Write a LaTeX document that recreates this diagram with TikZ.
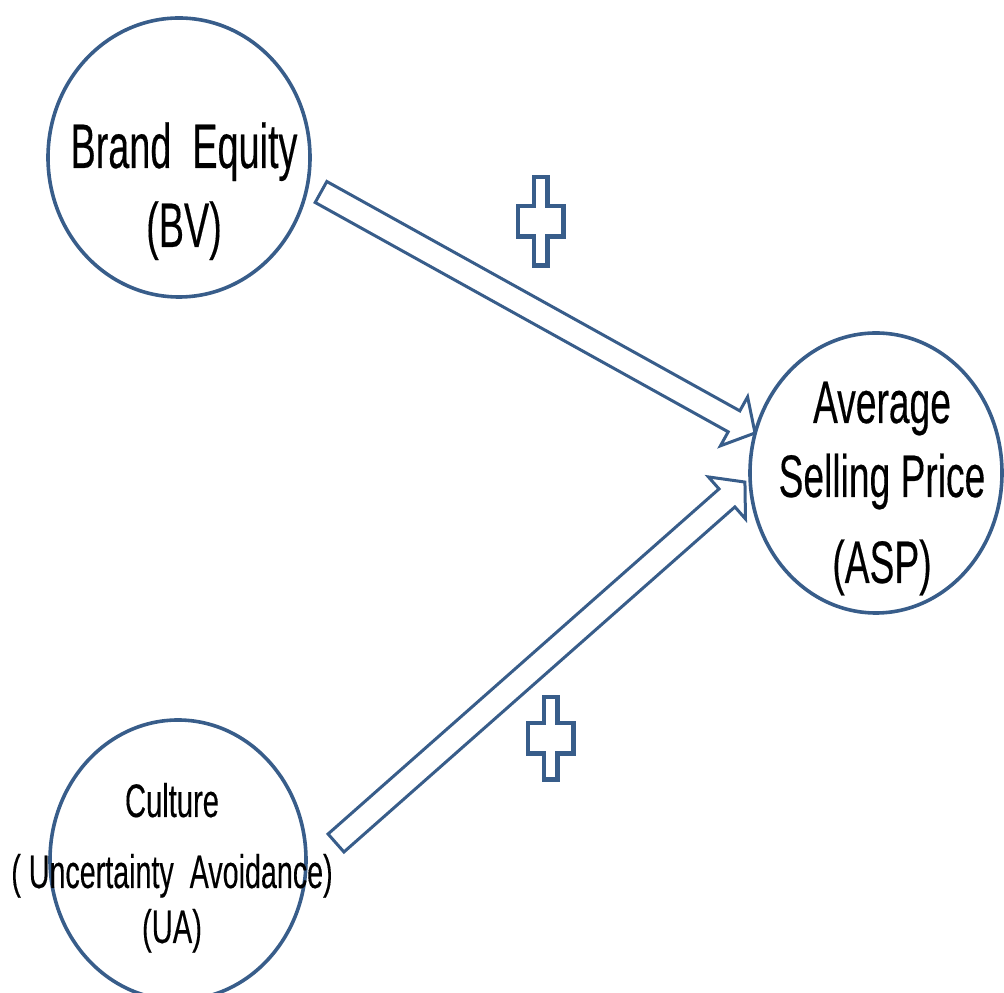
\documentclass[tikz,border=0pt]{standalone}
\usepackage{fontspec}
\setmainfont{Liberation Sans}[FakeBold=0.35]
\usetikzlibrary{shapes.geometric,calc}
\definecolor{ol}{RGB}{56,93,138}
\tikzset{
  construct/.style={draw=ol, line width=3.6pt, ellipse, inner sep=0pt},
  lbl/.style={anchor=base, inner sep=0pt, text=black},
  blockarrow/.style={draw=ol, line width=3pt, fill=white, line join=miter},
  plusline/.style={draw=ol, line width=4.5pt, line join=miter}
}
\newcommand\nar[2][0.62]{\scalebox{#1}[1]{#2}}
% hollow block arrow from coordinate #1 to coordinate #2
\newcommand\blockarr[2]{%
  \draw[blockarrow] let \p1=(#1), \p2=(#2),
      \n1={atan2(\y2-\y1,\x2-\x1)}, \n2={veclen(\x2-\x1,\y2-\y1)} in
    ($(\p1)+({\n1+90}:12)$)
 -- ($(\p1)+({\n1}:{\n2-24})+({\n1+90}:12)$)
 -- ($(\p1)+({\n1}:{\n2-24})+({\n1+90}:28)$)
 -- ($(\p1)+({\n1}:{\n2})$)
 -- ($(\p1)+({\n1}:{\n2-24})+({\n1-90}:28)$)
 -- ($(\p1)+({\n1}:{\n2-24})+({\n1-90}:12)$)
 -- ($(\p1)+({\n1-90}:12)$) -- cycle;}
% outlined plus sign centred at #1, half-height #2
\newcommand\plusmark[2]{%
  \draw[plusline, shift={#1}]
    (-6.75,#2) -- (6.75,#2) -- (6.75,15.25) -- (22.75,15.25) -- (22.75,-15.25) -- (6.75,-15.25)
 -- (6.75,-#2) -- (-6.75,-#2) -- (-6.75,-15.25) -- (-22.75,-15.25) -- (-22.75,15.25) -- (-6.75,15.25) -- cycle;}
\begin{document}
\begin{tikzpicture}[x=1pt,y=1pt]
\useasboundingbox (0,0) rectangle (1004,993);

% constructs
\node[construct, minimum width=262pt, minimum height=279pt] (bv) at (179,835.5) {};
\node[construct, minimum width=252pt, minimum height=280pt] (asp) at (876,520) {};
\node[construct, minimum width=256pt, minimum height=280pt] (ua) at (178,133) {};

% labels
\node[lbl, font=\fontsize{63}{79}\selectfont] (bv1) at (184,825) {\nar[0.6]{Brand\ \ Equity}};
\node[lbl, font=\fontsize{63}{79}\selectfont] (bv2) at (184,746) {\nar[0.6]{(BV)}};

\node[lbl, font=\fontsize{60}{75}\selectfont] (asp1) at (882,570) {\nar{Average}};
\node[lbl, font=\fontsize{60}{75}\selectfont] (asp2) at (882,496) {\nar{Selling Price}};
\node[lbl, font=\fontsize{60}{75}\selectfont] (asp3) at (882,410) {\nar{(ASP)}};

\node[lbl, font=\fontsize{47}{59}\selectfont] (ua1) at (172,176) {\nar{Culture}};
\node[lbl, font=\fontsize{47}{59}\selectfont] (ua2) at (172,105) {\nar[0.61]{( Uncertainty\ \ Avoidance)}};
\node[lbl, font=\fontsize{47}{59}\selectfont] (ua3) at (172,50) {\nar{(UA)}};

% connector end points
\coordinate (bvout) at (321,801);
\coordinate (aspin1) at (755,560);
\coordinate (uaout) at (336,150);
\coordinate (aspin2) at (745,511);

\blockarr{bvout}{aspin1}
\blockarr{uaout}{aspin2}

% signs
\plusmark{(540.5,771.5)}{44.25}
\plusmark{(550.5,254.5)}{41.25}
\end{tikzpicture}
\end{document}
